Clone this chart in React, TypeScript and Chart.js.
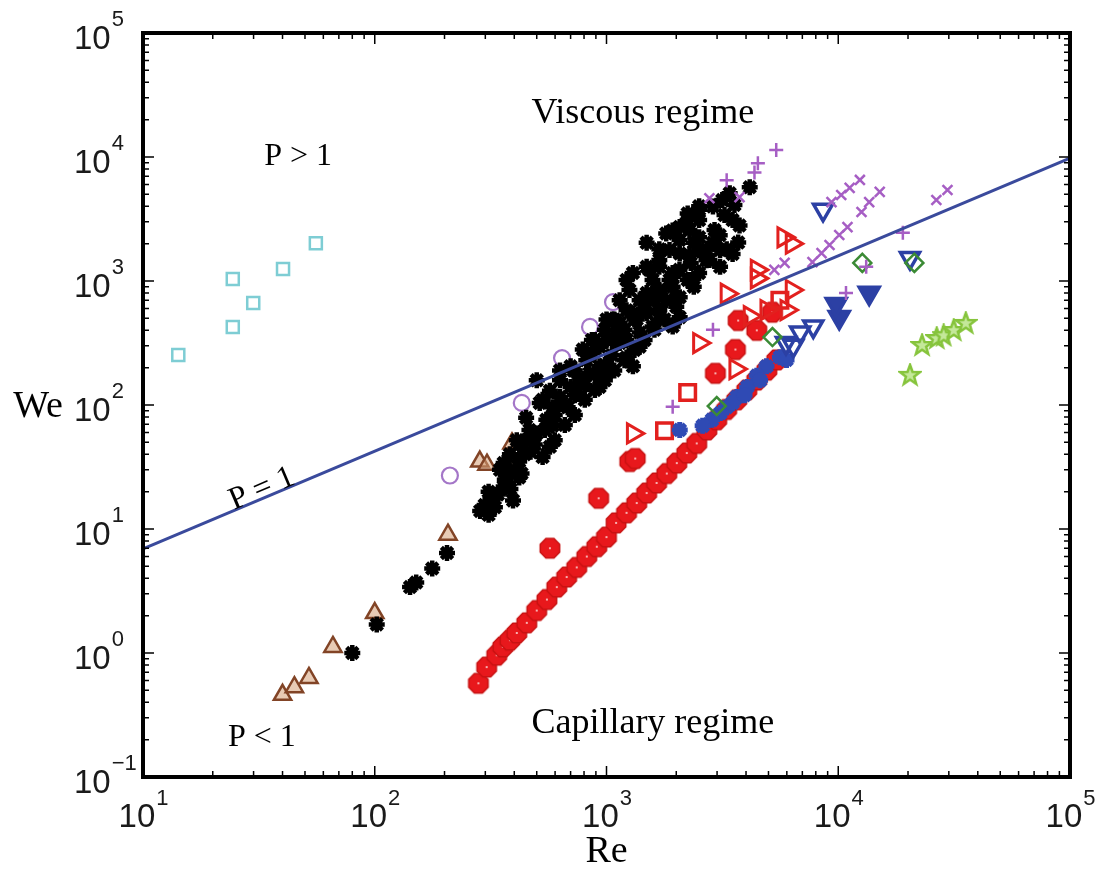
import React, { useEffect, useRef } from "react";
import { Chart, registerables } from "chart.js";
Chart.register(...registerables);

type P = [number, number];

// Re, We pairs
const cyanSquares: P[] = [[14.2, 253], [24.4, 426], [29.9, 665], [24.4, 1040], [40.2, 1250], [55.7, 2020]];
const purpleCircles: P[] = [[211, 27], [431, 104], [643, 239], [849, 426], [1067, 676]];
const brownTriangles: P[] = [[40, 0.46], [45, 0.53], [52, 0.63], [66, 1.12], [100, 2.1], [207, 9.0], [284, 35], [305, 33], [391, 49], [395, 35], [560, 72]];
const blackStars: P[] = [
  [80, 1.0], [102, 1.7], [142, 3.4], [151, 3.7], [177, 4.8], [205, 6.4],
  [285, 14], [310, 13], [320, 17], [330, 15], [360, 22], [360, 34], [385, 21], [385, 28], [410, 52], [420, 35], [430, 28],
  [450, 52], [450, 79], [465, 63], [500, 59], [500, 158], [515, 104], [530, 38], [530, 110], [550, 76], [570, 46], [585, 96],
  [585, 68], [630, 116], [630, 158], [680, 96], [700, 140], [720, 190], [745, 126], [770, 158], [843, 180], [818, 230],
  [865, 262], [933, 140], [933, 205], [933, 295], [1000, 180], [1000, 335], [1060, 490], [1100, 405], [1140, 460],
  [1140, 700], [1140, 316], [1220, 242], [1220, 335], [1220, 1020], [1300, 205], [1300, 550], [1300, 1160], [1350, 490],
  [1390, 295], [1390, 385], [1490, 550], [1490, 1300], [1490, 800], [1490, 2030], [1580, 1020], [1690, 490], [1690, 1300],
  [1690, 1800], [1690, 580], [1810, 700], [1810, 2420], [1930, 430], [1930, 1160], [1930, 900], [1930, 2560], [1930, 1080],
  [2000, 740], [2000, 620], [2070, 1670], [2070, 2730], [2070, 740], [2070, 510], [2240, 1020], [2240, 3100], [2240, 3500],
  [2310, 1400], [2310, 1020], [2380, 900], [2380, 2030], [2510, 1160], [2510, 3100], [2510, 2250], [2510, 3760], [2700, 1800],
  [2700, 1470], [2880, 2030], [2880, 3980], [3090, 1300], [3090, 1780], [3160, 4500], [3300, 1800], [3400, 5100], [3500, 1650],
  [3500, 3100], [3700, 2040], [4150, 5700],
  [1060, 335], [1000, 490], [1390, 700], [1580, 430], [1690, 830], [1220, 580], [865, 335], [790, 280], [700, 205],
  [630, 190], [570, 130], [420, 26], [470, 42], [395, 17], [340, 19], [370, 23],
  [298, 15.6], [330, 18.8], [364, 25], [402, 30], [444, 40], [490, 48], [542, 63], [598, 83], [661, 100], [730, 120],
  [806, 145], [891, 175], [984, 210], [1055, 253], [598, 52], [661, 69], [730, 83], [806, 110], [891, 132], [984, 158],
  [1080, 190], [1196, 230], [1320, 278], [1460, 335], [1610, 405], [1780, 490], [1256, 845], [1530, 1230], [1690, 1480],
  [1870, 1780], [2065, 2140], [2280, 2580], [2510, 4000], [2925, 2580], [3230, 3400], [3565, 4100], [1530, 700],
  [1690, 845], [1870, 1020], [2065, 1230], [2280, 1620], [2510, 1780], [2780, 1480], [3080, 2340], [3750, 2800],
  [1080, 490], [1196, 405], [1320, 490], [1460, 580], [1610, 700], [984, 405], [891, 335], [843, 255], [730, 190],
  [347, 30], [383, 40], [420, 48], [310, 20],
];
const redBand: P[] = [
  [280, 0.57], [304, 0.77], [336, 0.96], [357, 1.12], [383, 1.27], [410, 1.45], [453, 1.75], [500, 2.2], [553, 2.7],
  [610, 3.4], [673, 4.1], [744, 4.9], [822, 6.0], [908, 7.2], [1000, 8.6], [1100, 11.2], [1220, 13.5], [1350, 16.2],
  [1490, 19.5], [1645, 23.5], [1820, 28], [2010, 34], [2220, 41], [2450, 49], [2710, 63], [2990, 76], [3300, 92],
  [3650, 110], [4030, 132], [4450, 159], [4920, 191], [5430, 231],
  [570, 7.0], [925, 17.7], [1260, 35], [1330, 37], [2950, 180], [3600, 280], [3700, 480], [4450, 400], [5200, 560],
];
const redOpenSquares: P[] = [[1780, 62], [2240, 126], [5600, 700]];
const redTriangles: P[] = [[1300, 59], [2510, 316], [3300, 790], [4450, 1230], [4450, 1050], [5800, 2250], [6300, 2000], [6300, 845], [4900, 583], [5980, 583], [4150, 520], [3600, 195]];
const purplePlus: P[] = [[5400, 11400], [4500, 8900], [4350, 7500], [3300, 6500], [19000, 2450], [13200, 1300], [10800, 800], [2880, 405], [1930, 97]];
const purpleX: P[] = [
  [9350, 4330], [10300, 4940], [11200, 5630], [12400, 6530], [12600, 3600], [13600, 4330], [15100, 5230],
  [26500, 4500], [29600, 5420], [7740, 1420], [8470, 1680], [9170, 1950], [10100, 2350], [10960, 2720],
  [5300, 1230], [5870, 1400], [3750, 4750], [2780, 4650],
];
const blueOpenTriangles: P[] = [[8600, 3750], [20400, 1530], [7800, 430], [6850, 385], [5950, 316], [6400, 300]];
const blueFilledTriangles: P[] = [[13600, 800], [10100, 510], [9800, 650]];
const blueSmall: P[] = [[5600, 243], [4900, 205], [4450, 172], [4050, 140], [3650, 116], [3300, 96], [3100, 86], [2850, 76], [2600, 68], [2070, 63], [3500, 104], [4600, 158], [5980, 231], [3940, 120]];
const greenDiamonds: P[] = [[12700, 1400], [21300, 1400], [5200, 353], [2990, 98]];
const greenStars: P[] = [[20400, 175], [23000, 305], [26600, 347], [28500, 366], [31500, 403], [35500, 459]];
const criterionRe = [10, 100000];
const criterionWe = [6.9, 9800];

const xTickExps = [1, 2, 3, 4, 5];
const yTickExps = [-1, 0, 1, 2, 3, 4, 5];

const pts = (a: P[]) => a.map(([x, y]) => ({ x, y }));

function octagon(): HTMLCanvasElement {
  const c = document.createElement("canvas");
  c.width = 24; c.height = 24;
  const g = c.getContext("2d")!;
  g.beginPath();
  for (let i = 0; i < 8; i++) {
    const a = Math.PI / 8 + (i * Math.PI) / 4;
    const px = 12 + 10.5 * Math.cos(a), py = 12 + 10.5 * Math.sin(a);
    i ? g.lineTo(px, py) : g.moveTo(px, py);
  }
  g.closePath();
  g.fillStyle = "#e8181c"; g.fill();
  g.strokeStyle = "#c81212"; g.lineWidth = 1.5; g.stroke();
  g.fillStyle = "#f8b0b0"; g.fillRect(11, 11, 2, 2);
  return c;
}

function star5(): HTMLCanvasElement {
  const c = document.createElement("canvas");
  c.width = 24; c.height = 24;
  const g = c.getContext("2d")!;
  g.beginPath();
  for (let i = 0; i < 10; i++) {
    const r = i % 2 ? 4.3 : 10.5;
    const a = -Math.PI / 2 + (i * Math.PI) / 5;
    const px = 12 + r * Math.cos(a), py = 12.5 + r * Math.sin(a);
    i ? g.lineTo(px, py) : g.moveTo(px, py);
  }
  g.closePath();
  g.fillStyle = "#c4e89a"; g.fill();
  g.strokeStyle = "#86c43c"; g.lineWidth = 2.5; g.stroke();
  return c;
}

const overlay = {
  id: "overlay",
  afterDraw(chart: any) {
    const ctx = chart.ctx as CanvasRenderingContext2D;
    const { left, right, top, bottom } = chart.chartArea;
    const xs = chart.scales.x, ys = chart.scales.y;
    ctx.save();
    ctx.strokeStyle = "#000";
    ctx.lineWidth = 1.5;
    for (let e = 1; e <= 5; e++) {
      for (let k = 1; k <= 9; k++) {
        if (e === 5 && k > 1) break;
        const px = xs.getPixelForValue(k * Math.pow(10, e));
        const L = k === 1 ? 11 : 6;
        ctx.beginPath();
        ctx.moveTo(px, bottom); ctx.lineTo(px, bottom - L);
        ctx.moveTo(px, top); ctx.lineTo(px, top + L);
        ctx.stroke();
      }
    }
    for (let e = -1; e <= 5; e++) {
      for (let k = 1; k <= 9; k++) {
        if (e === 5 && k > 1) break;
        const py = ys.getPixelForValue(k * Math.pow(10, e));
        const L = k === 1 ? 11 : 6;
        ctx.beginPath();
        ctx.moveTo(left, py); ctx.lineTo(left + L, py);
        ctx.moveTo(right, py); ctx.lineTo(right - L, py);
        ctx.stroke();
      }
    }
    ctx.lineWidth = 4;
    ctx.strokeRect(left, top, right - left, bottom - top);

    ctx.fillStyle = "#1a1a1a";
    ctx.textBaseline = "alphabetic";
    const baseFont = "33px 'Liberation Sans', Arial, sans-serif";
    const expFont = "22px 'Liberation Sans', Arial, sans-serif";
    for (const e of xTickExps) {
      const px = xs.getPixelForValue(Math.pow(10, e));
      const es = e < 0 ? "\u2212" + Math.abs(e) : String(e);
      ctx.font = baseFont; const wb = ctx.measureText("10").width;
      ctx.font = expFont; const we = ctx.measureText(es).width;
      const x0 = px - (wb + we) / 2;
      ctx.textAlign = "left";
      ctx.font = baseFont; ctx.fillText("10", x0, bottom + 50);
      ctx.font = expFont; ctx.fillText(es, x0 + wb + 1, bottom + 28);
    }
    for (const e of yTickExps) {
      const py = ys.getPixelForValue(Math.pow(10, e));
      const es = e < 0 ? "\u2212" + Math.abs(e) : String(e);
      ctx.textAlign = "left";
      ctx.font = baseFont; const wb = ctx.measureText("10").width;
      ctx.fillText("10", left - 69, py + 16);
      ctx.font = expFont; ctx.fillText(es, left - 69 + wb + 1, py - 7);
    }

    ctx.fillStyle = "#000";
    ctx.textAlign = "center";
    ctx.textBaseline = "middle";
    const serif = (s: number) => `${s}px 'Liberation Serif', 'Times New Roman', serif`;
    const note = (t: string, re: number, we: number, size: number, rot = 0) => {
      const x = xs.getPixelForValue(re), y = ys.getPixelForValue(we);
      ctx.save();
      ctx.translate(x, y);
      ctx.rotate(rot);
      ctx.font = serif(size);
      ctx.fillText(t, 0, 0);
      ctx.restore();
    };
    note("Viscous regime", 1435, 22600, 36);
    note("P > 1", 46.7, 10000, 32);
    note("P = 1", 32.6, 21, 32, -0.40);
    note("P < 1", 32.6, 0.206, 32);
    note("Capillary regime", 1585, 0.272, 36);
    ctx.font = serif(38);
    ctx.fillText("We", left - 105, (top + bottom) / 2 + 2);
    ctx.fillText("Re", (left + right) / 2, bottom + 75);
    ctx.restore();
  },
};

export default function App() {
  const ref = useRef<HTMLCanvasElement | null>(null);
  useEffect(() => {
    if (!ref.current) return;
    const oct = octagon();
    const st5 = star5();
    const chart = new Chart(ref.current, {
      type: "scatter",
      data: {
        datasets: [
          {
            type: "line" as any,
            data: criterionRe.map((x, i) => ({ x, y: criterionWe[i] })),
            borderColor: "#3a4a9c", borderWidth: 3, pointRadius: 0, showLine: true, fill: false,
          } as any,
          { data: pts(purplePlus), pointStyle: "cross", pointRadius: 7, borderColor: "#a65ec4", borderWidth: 2.5, backgroundColor: "transparent" },
          { data: pts(purpleX), pointStyle: "crossRot", pointRadius: 7, borderColor: "#a65ec4", borderWidth: 2.5, backgroundColor: "transparent" },
          { data: pts(greenDiamonds), pointStyle: "rectRot", pointRadius: 9, borderColor: "#3b8a35", borderWidth: 2.5, backgroundColor: "rgba(255,255,255,0)" },
          { data: pts(blueFilledTriangles), pointStyle: "triangle", rotation: 180, pointRadius: 12, borderColor: "#2c40a4", borderWidth: 3, backgroundColor: "#2c40a4" },
          { data: pts(blueOpenTriangles), pointStyle: "triangle", rotation: 180, pointRadius: 11, borderColor: "#2c40a4", borderWidth: 3.5, backgroundColor: "rgba(255,255,255,0)" },
          { data: pts(blueSmall), pointStyle: "star", pointRadius: 8, borderColor: "#2f4ab4", borderWidth: 5, backgroundColor: "#2f4ab4" },
          { data: pts(redTriangles), pointStyle: "triangle", rotation: 90, pointRadius: 11, borderColor: "#e2201e", borderWidth: 3, backgroundColor: "rgba(255,255,255,0)" },
          { data: pts(redOpenSquares), pointStyle: "rect", pointRadius: 11, borderColor: "#e2201e", borderWidth: 3.5, backgroundColor: "rgba(255,255,255,0)" },
          { data: pts(redBand), pointStyle: oct as any, pointRadius: 11 },
          { data: pts(blackStars), pointStyle: "star", pointRadius: 8, borderColor: "#000", borderWidth: 4.5, backgroundColor: "#000" },
          { data: pts(brownTriangles), pointStyle: "triangle", pointRadius: 10, borderColor: "#824426", borderWidth: 2.5, backgroundColor: "rgba(214,160,120,0.55)" },
          { data: pts(purpleCircles), pointStyle: "circle", pointRadius: 8, borderColor: "#a476c8", borderWidth: 2.2, backgroundColor: "rgba(255,255,255,0)" },
          { data: pts(cyanSquares), pointStyle: "rect", pointRadius: 8.5, borderColor: "#7ecdd4", borderWidth: 2.5, backgroundColor: "rgba(255,255,255,0)" },
          { data: pts(greenStars), pointStyle: st5 as any, pointRadius: 10 },
        ] as any,
      },
      options: {
        animation: false,
        responsive: false,
        devicePixelRatio: 1,
        layout: { padding: { left: 143, right: 30, top: 33, bottom: 92 } },
        plugins: { legend: { display: false }, tooltip: { enabled: false } },
        scales: {
          x: { type: "logarithmic", min: 10, max: 100000, display: false },
          y: { type: "logarithmic", min: 0.1, max: 100000, display: false },
        },
      },
      plugins: [overlay],
    });
    return () => chart.destroy();
  }, []);
  return (
    <div style={{ position: "fixed", left: 0, top: 0, width: 1100, height: 869, background: "#fff" }}>
      <canvas ref={ref} width={1100} height={869} />
    </div>
  );
}
